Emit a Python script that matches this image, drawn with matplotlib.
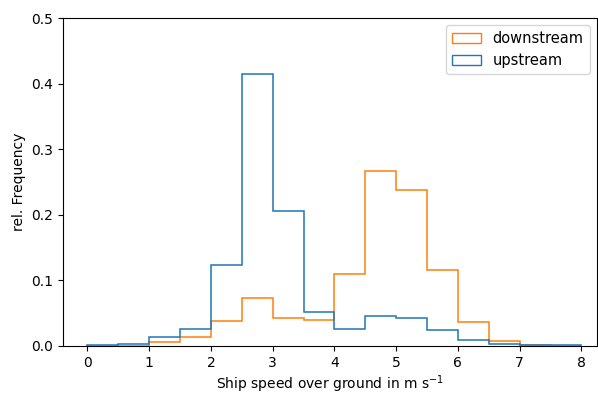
import matplotlib
matplotlib.use("Agg")
import matplotlib.pyplot as plt
from matplotlib.patches import Patch
import numpy as np

# bin edges (m/s) and relative frequencies per bin
edges = np.arange(0, 8.01, 0.5)
upstream = [0.002, 0.003, 0.014, 0.025, 0.124, 0.415, 0.206, 0.051,
            0.026, 0.046, 0.043, 0.024, 0.009, 0.003, 0.001, 0.001]
downstream = [0.0, 0.0, 0.006, 0.013, 0.038, 0.073, 0.043, 0.039,
              0.109, 0.267, 0.238, 0.116, 0.036, 0.008, 0.002, 0.0]

fig = plt.figure(figsize=(5.98, 3.93), dpi=100)
ax = fig.add_axes([0.105, 0.12, 0.893, 0.834])

ax.stairs(downstream, edges, color='C1', linewidth=1.1, zorder=2)
ax.stairs(upstream, edges, color='C0', linewidth=1.1, zorder=3)

ax.set_ylim(0, 0.5)
ax.set_xlim(-0.4, 8.25)
ax.set_xticks(range(0, 9))
ax.set_xlabel('Ship speed over ground in m s$^{-1}$', labelpad=2.5)
ax.set_ylabel('rel. Frequency')

handles = [Patch(fill=False, edgecolor='C1', label='downstream'),
           Patch(fill=False, edgecolor='C0', label='upstream')]
ax.legend(handles=handles, loc='upper right', fontsize=10.5)

fig.savefig('out.png', dpi=100)
